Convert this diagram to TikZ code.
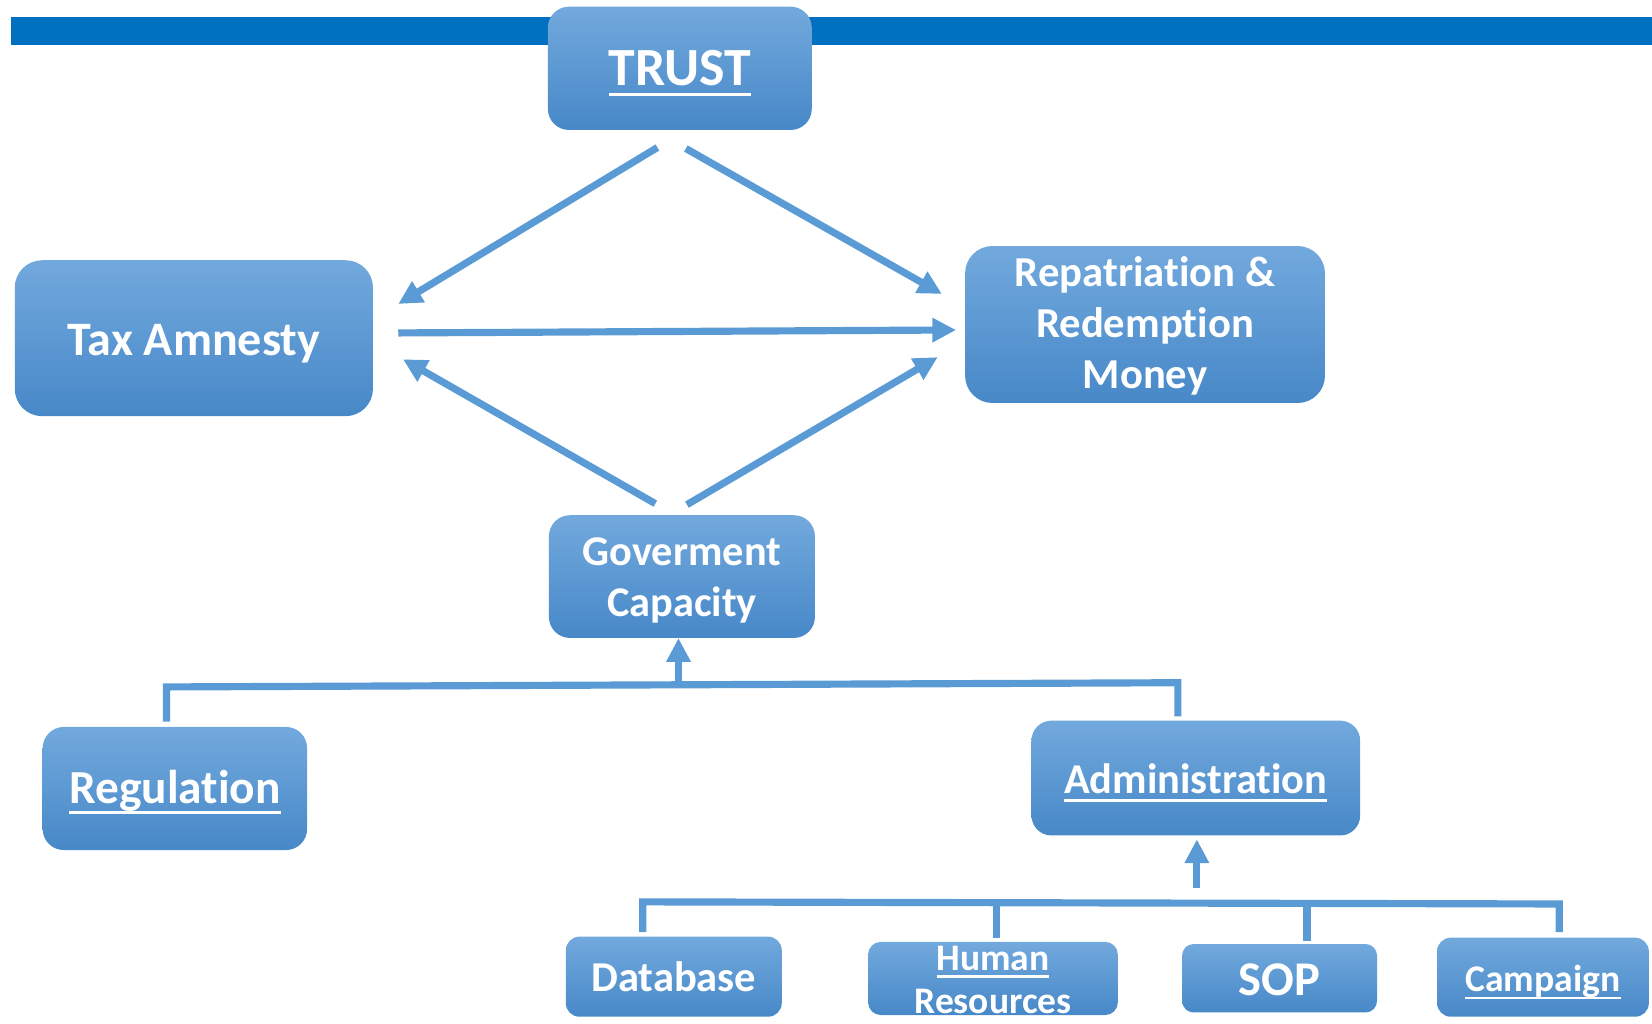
\documentclass[tikz,border=0pt]{standalone}
\usepackage{fontspec}
\setmainfont{Carlito}[Ligatures=NoCommon]
\usetikzlibrary{arrows.meta}
\definecolor{barblue}{HTML}{0070C0}
\definecolor{linkblue}{HTML}{5B9BD5}
\definecolor{boxtop}{HTML}{72A9DD}
\definecolor{boxbot}{HTML}{4788C8}
\newcommand\ulx[1]{\setbox0\hbox{#1}\leavevmode\rlap{\vrule width\wd0 height -0.14em depth 0.21em}\box0}
\newcommand\vfix[2]{\rule[-#2pt]{0pt}{\dimexpr#1pt+#2pt\relax}}
\begin{document}
\begin{tikzpicture}[x=1pt,y=-1pt,
  box/.style={rectangle, inner sep=0pt, top color=boxtop, bottom color=boxbot, text=white, align=center},
  link/.style={draw=linkblue, line width=6.8pt},
  arr/.style={link, -{Triangle[length=22.5pt,width=22pt]}},
]
\useasboundingbox (0,0) rectangle (1568,971);
\fill[barblue] (10,16) rectangle (1568,42.7);

\node[box, minimum width=250.5pt, minimum height=117pt, rounded corners=20pt, font=\fontsize{51}{60}\selectfont\bfseries] (trust) at (645.25,64.85) {\vfix{43.7}{12}\ulx{TRUST}};
\node[box, minimum width=340pt, minimum height=148pt, rounded corners=26pt, font=\fontsize{45.6}{54}\selectfont\bfseries] (tax) at (184,321) {\vfix{44}{12}Tax Amnesty};
\node[box, minimum width=341.6pt, minimum height=149pt, rounded corners=26pt, font=\fontsize{40.5}{48.3}\selectfont\bfseries] (repat) at (1086.8,308) {\rule{0pt}{36.5pt}Repatriation \&\\Redemption\\Money\rule[-12pt]{0pt}{12pt}};
\node[box, minimum width=252.5pt, minimum height=116.5pt, rounded corners=20pt, font=\fontsize{40.2}{49}\selectfont\bfseries] (gov) at (647.25,547.25) {\rule{0pt}{39.1pt}Goverment\\Capacity\rule[-12pt]{0pt}{12pt}};
\node[box, minimum width=251pt, minimum height=116.8pt, rounded corners=20pt, font=\fontsize{45}{54}\selectfont\bfseries] (reg) at (166,748.4) {\vfix{41.2}{12}\ulx{Regulation}};
\node[box, minimum width=312pt, minimum height=109pt, rounded corners=19pt, font=\fontsize{40.3}{48}\selectfont\bfseries] (admin) at (1135,738.5) {\vfix{41}{12}\ulx{Administration}};
\node[box, minimum width=205pt, minimum height=76pt, rounded corners=13pt, font=\fontsize{40.4}{48}\selectfont\bfseries] (db) at (639.5,927) {\vfix{40.4}{12}Database};
\node[box, minimum width=237pt, minimum height=69.4pt, rounded corners=12pt, font=\fontsize{35.6}{41}\selectfont\bfseries] (hr) at (942.5,928.7) {\rule{0pt}{26.5pt}\ulx{Human}\\Resources\rule[-1.5pt]{0pt}{1.5pt}};
\node[box, minimum width=185pt, minimum height=65pt, rounded corners=11pt, font=\fontsize{46}{54}\selectfont\bfseries] (sop) at (1214.5,928.5) {\vfix{45}{12}SOP};
\node[box, minimum width=201pt, minimum height=75pt, rounded corners=13pt, font=\fontsize{35.7}{42}\selectfont\bfseries] (camp) at (1464.5,927.5) {\vfix{39}{12}\ulx{Campaign}};

% diagonal and horizontal connectors
\coordinate (tA) at (624,140);   \coordinate (tAe) at (378,288.5);
\coordinate (tB) at (651,141);   \coordinate (tBe) at (894,279);
\coordinate (hA) at (378,316);   \coordinate (hAe) at (907.4,313.2);
\coordinate (gA) at (622,478);   \coordinate (gAe) at (382.5,341);
\coordinate (gB) at (652,479);   \coordinate (gBe) at (890,339);
\draw[arr] (tA) -- (tAe);
\draw[arr] (tB) -- (tBe);
\draw[arr] (hA) -- (hAe);
\draw[arr] (gA) -- (gAe);
\draw[arr] (gB) -- (gBe);

% upper bracket
\coordinate (regTop) at (158,685);
\coordinate (ubL) at (158,652);
\coordinate (ubR) at (1118,648);
\coordinate (admTop) at (1118,680);
\coordinate (ubM) at (644,650);
\draw[link] (regTop) -- (ubL) -- (ubR) -- (admTop);
\draw[arr] (ubM) -- (ubM |- gov.south);

% lower bracket
\coordinate (dbTop) at (610,884.6);
\coordinate (lbL) at (610,856);
\coordinate (lbR) at (1480,858);
\coordinate (cpTop) at (1480,884.6);
\coordinate (hrJ) at (945.5,857.3);
\coordinate (hrTop) at (945.5,890);
\coordinate (sopJ) at (1240.5,857.8);
\coordinate (sopTop) at (1240.5,893);
\coordinate (lbM) at (1136,843);
\draw[link] (dbTop) -- (lbL) -- (lbR) -- (cpTop);
\draw[link] (hrJ) -- (hrTop);
\draw[link] (sopJ) -- (sopTop);
\draw[arr] (lbM) -- ([yshift=-3.5pt]lbM |- admin.south);
\end{tikzpicture}
\end{document}
